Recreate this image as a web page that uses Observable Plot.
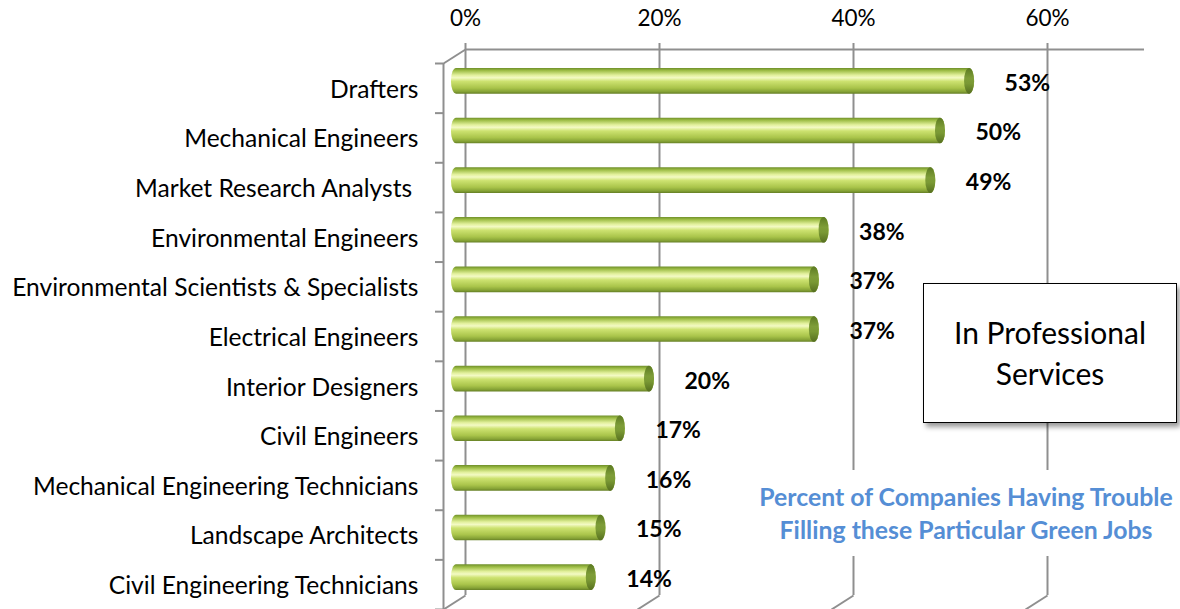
<!DOCTYPE html>
<html>
<head>
<meta charset="utf-8">
<script src="https://cdn.jsdelivr.net/npm/d3@7"></script>
<script src="https://cdn.jsdelivr.net/npm/@observablehq/plot@0.6"></script>
<style>
  html, body { margin: 0; padding: 0; background: #fff; }
  #wrap { position: relative; width: 1180px; height: 609px; overflow: hidden; font-family: Lato, "Open Sans", sans-serif; }
  #wrap svg { position: absolute; left: 0; top: 0; }
  .box {
    position: absolute; left: 923px; top: 283px; width: 254px; height: 140px;
    box-sizing: border-box; border: 1.5px solid #000; background: #fff;
    box-shadow: 3px 4px 5px rgba(0,0,0,0.4);
    display: flex; align-items: center; justify-content: center; text-align: center;
    font-size: 30px; line-height: 41px; color: #000;
  }
  .caption {
    position: absolute; left: 755px; top: 470px; width: 422px; height: 86px;
    background: #fff; color: #558ed5; font-weight: bold; font-size: 24.8px; line-height: 33px;
    display: flex; align-items: center; justify-content: center; text-align: center;
    white-space: nowrap;
  }
</style>
</head>
<body>
<div id="wrap">
  <div id="chart"></div>
  <div class="box">In Professional<br>Services</div>
  <div class="caption">Percent of Companies Having Trouble<br>Filling these Particular Green Jobs</div>
</div>
<script>
const categories = [
  "Drafters",
  "Mechanical Engineers",
  "Market Research Analysts ",
  "Environmental Engineers",
  "Environmental Scientists & Specialists",
  "Electrical Engineers",
  "Interior Designers",
  "Civil Engineers",
  "Mechanical Engineering Technicians",
  "Landscape Architects",
  "Civil Engineering Technicians"
];
const values = [53, 50, 49, 38, 37, 37, 20, 17, 16, 15, 14];
const xTicks = [0, 20, 40, 60];
const xMax = 70;

const data = categories.map((c, i) => ({category: c, value: values[i], i}));
const bands = d3.range(categories.length + 1);

// layout (pixels)
const W = 1180, H = 609;
const mLeft = 443, mRight = 58, mTop = 63, mBottom = 0;
const depthX = 22, depthY = 14;            // 3-D depth offset of the back wall
const pxPerX = (W - mLeft - mRight) / xMax;
const pxPerY = (H - mTop - mBottom) / categories.length;
const DXu = depthX / pxPerX, DYu = depthY / pxPerY;

const grid = "#8f8f8f";
const svgNS = "http://www.w3.org/2000/svg";

function defs() {
  const d = document.createElementNS(svgNS, "defs");
  const mk = (id, stops) => {
    const g = document.createElementNS(svgNS, "linearGradient");
    g.setAttribute("id", id);
    g.setAttribute("x1", "0"); g.setAttribute("y1", "0");
    g.setAttribute("x2", "0"); g.setAttribute("y2", "1");
    for (const [o, c] of stops) {
      const s = document.createElementNS(svgNS, "stop");
      s.setAttribute("offset", o); s.setAttribute("stop-color", c);
      g.appendChild(s);
    }
    d.appendChild(g);
  };
  mk("barGrad", [[0, "#6f8f2a"], [0.1, "#9dbd45"], [0.28, "#e2f09c"], [0.38, "#f3fac4"], [0.52, "#cde270"], [0.78, "#a9c44a"], [0.92, "#86a336"], [1, "#657f25"]]);
  mk("capGrad", [[0, "#5c7a22"], [0.4, "#7e9d38"], [0.6, "#7a9934"], [1, "#566f1f"]]);
  return d;
}

const chart = Plot.plot({
  width: W,
  height: H,
  marginLeft: mLeft,
  marginRight: mRight,
  marginTop: mTop,
  marginBottom: mBottom,
  style: {fontFamily: "Lato, 'Open Sans', sans-serif", fontSize: "24px", color: "#000", background: "transparent", overflow: "visible"},
  x: {domain: [0, xMax], axis: null},
  y: {domain: [0, categories.length], range: [mTop, H - mBottom], axis: null},
  marks: [
    defs,
    // back wall verticals
    Plot.ruleX(xTicks, {x: d => d, y1: 0, y2: categories.length, dx: depthX, dy: -depthY, stroke: grid, strokeWidth: 2}),
    // floor slants
    Plot.link(xTicks, {x1: d => d + DXu, y1: categories.length - DYu, x2: d => d, y2: categories.length, stroke: grid, strokeWidth: 2}),
    // top edge of back wall
    Plot.ruleY([0], {x1: 0, x2: xMax, dx: depthX, dy: -depthY, stroke: grid, strokeWidth: 2}),
    // top ticks
    Plot.ruleX(xTicks, {x: d => d, y1: -6 / pxPerY, y2: 0, dx: depthX, dy: -depthY, stroke: grid, strokeWidth: 2}),
    // left wall
    Plot.ruleX([0], {y1: 0, y2: categories.length, stroke: grid, strokeWidth: 2}),
    Plot.link([0], {x1: 0, y1: 0, x2: DXu, y2: -DYu, stroke: grid, strokeWidth: 2}),
    // left ticks
    Plot.ruleY(bands, {y: d => d, x1: -8 / pxPerX, x2: 0, stroke: grid, strokeWidth: 2}),
    // top tick labels
    Plot.text(xTicks, {x: d => d, y: 0, text: d => d + "%", dx: depthX, dy: -45, fontSize: 22.5, fill: "#000"}),
    // cylinder bodies
    Plot.rectX(data, {x1: 0, x2: "value", y1: d => d.i, y2: d => d.i + 1,
      insetTop: 12, insetBottom: 12, insetRight: -9, dx: 8, dy: -7,
      rx: 5, ry: 12, fill: "url(#barGrad)"}),
    // cylinder end caps
    Plot.rectX(data, {x1: "value", x2: "value", y1: d => d.i, y2: d => d.i + 1,
      insetTop: 12, insetBottom: 12, insetLeft: -5, insetRight: -5, dx: 12, dy: -7,
      rx: 5, ry: 12.5, fill: "url(#capGrad)"}),
    // category labels
    Plot.text(data, {x: 0, y: d => d.i + 0.5, text: "category", textAnchor: "end", dx: -25, dy: 1.5, fontSize: 24.6, fill: "#000"}),
    // value labels
    Plot.text(data, {x: "value", y: d => d.i + 0.5, text: d => d.value + "%", textAnchor: "start", dx: 47, dy: -5, fontSize: 23, fontWeight: "bold", fill: "#000"})
  ]
});
document.getElementById("chart").appendChild(chart);
</script>
</body>
</html>
